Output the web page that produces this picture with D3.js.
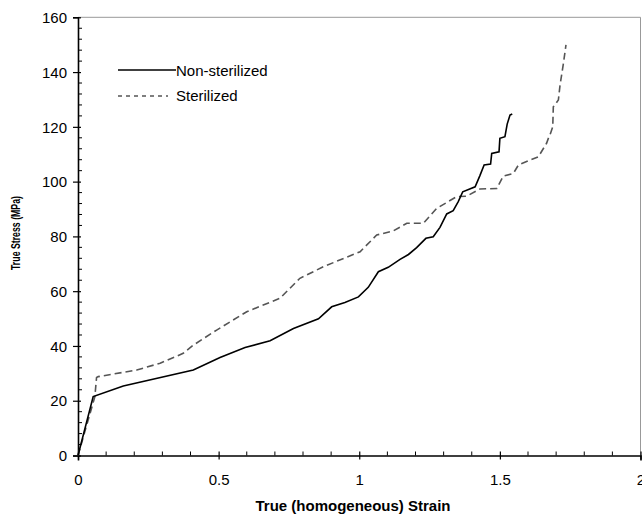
<!DOCTYPE html>
<html><head><meta charset="utf-8">
<script src="https://cdn.jsdelivr.net/npm/d3@7"></script>
<style>body{margin:0;background:#fff;} svg{display:block;font-family:Arial,"Liberation Sans",sans-serif;}</style>
</head><body>
<svg id="c" width="642" height="514"></svg>
<script>
const nonSterStrain = [0,0.054,0.161,0.41,0.505,0.594,0.683,0.766,0.855,0.902,0.949,0.997,1.032,1.068,1.103,1.145,1.175,1.204,1.237,1.263,1.287,1.311,1.334,1.352,1.368,1.412,1.429,1.444,1.467,1.471,1.497,1.5,1.518,1.526,1.536,1.544];
const nonSterStress = [0,21.5,25.4,31.2,35.8,39.4,41.9,46.4,49.9,54.3,55.9,57.9,61.4,67.1,68.7,71.6,73.4,75.9,79.3,79.9,83.3,88.2,89.4,92.7,96.3,98.1,102.2,106.1,106.4,110.3,110.9,115.8,116.4,121.0,124.3,124.7];
const sterStrain = [0,0.06,0.066,0.072,0.209,0.292,0.374,0.41,0.493,0.6,0.718,0.789,0.872,0.955,1.003,1.062,1.121,1.169,1.228,1.275,1.346,1.382,1.429,1.489,1.512,1.548,1.566,1.637,1.666,1.672,1.678,1.688,1.69,1.708,1.714,1.726,1.735];
const sterStress = [0,21.5,28.5,28.8,31.2,33.7,37.3,40.3,45.8,52.5,57.4,64.7,68.9,72.4,74.4,80.5,82,84.8,84.8,90.2,94.5,94.7,97.3,97.5,102,103,106.1,109.1,114,115.7,117,120,127.3,129.8,135.3,143.2,149.9];
const xTicks = [0,0.5,1,1.5,2];
const yTicks = [0,20,40,60,80,100,120,140,160];
const seriesNames = ["Non-sterilized","Sterilized"];

const svg = d3.select("#c");
const x = d3.scaleLinear().domain([0,2]).range([78,640.5]);
const y = d3.scaleLinear().domain([0,160]).range([455.5,17.3]);

// frame top/right
svg.append("line").attr("x1",78).attr("x2",640.5).attr("y1",17.3).attr("y2",17.3).attr("stroke","#999").attr("stroke-width",1);
svg.append("line").attr("x1",640.5).attr("x2",640.5).attr("y1",17.3).attr("y2",455.5).attr("stroke","#999").attr("stroke-width",1);

// minor ticks
const yMinor = d3.range(0,161,4).filter(v=>v%20!==0);
svg.append("g").selectAll("line").data(yMinor).join("line")
  .attr("x1",78).attr("x2",82).attr("y1",d=>y(d)).attr("y2",d=>y(d)).attr("stroke","#000").attr("stroke-width",1);
const xMinor = d3.range(0,21,1).map(v=>v/10).filter((v,i)=>i%5!==0);
svg.append("g").selectAll("line").data(xMinor).join("line")
  .attr("x1",d=>x(d)).attr("x2",d=>x(d)).attr("y1",455.5).attr("y2",451.5).attr("stroke","#000").attr("stroke-width",1);

// y axis
const ya = svg.append("g").attr("transform","translate(78,0)")
  .call(d3.axisLeft(y).tickValues(yTicks).tickSize(5).tickPadding(6).tickFormat(d3.format("d")));
ya.select(".domain").attr("stroke","#000").attr("stroke-width",1.6);
ya.selectAll(".tick line").attr("x2",-5).attr("x1",3).attr("stroke-width",1.2);
ya.selectAll("text").attr("font-size",15).attr("font-family","Arial,'Liberation Sans',sans-serif").attr("fill","#000").attr("dy","0.35em");

// x axis
const xa = svg.append("g").attr("transform","translate(0,455.5)")
  .call(d3.axisBottom(x).tickValues(xTicks).tickSize(5).tickPadding(14).tickFormat(d=>String(d)));
xa.select(".domain").attr("stroke","#000").attr("stroke-width",1.6);
xa.selectAll(".tick line").attr("y1",-4).attr("y2",4).attr("stroke-width",1.2);
xa.selectAll("text").attr("font-size",15).attr("font-family","Arial,'Liberation Sans',sans-serif").attr("fill","#000");

// lines
const line = d3.line().x(d=>x(d[0])).y(d=>y(d[1]));
const nonSter = nonSterStrain.map((v,i)=>[v,nonSterStress[i]]);
const ster = sterStrain.map((v,i)=>[v,sterStress[i]]);
svg.append("path").datum(ster).attr("d",line).attr("fill","none").attr("stroke","#555").attr("stroke-width",1.6).attr("stroke-dasharray","7,4");
svg.append("path").datum(nonSter).attr("d",line).attr("fill","none").attr("stroke","#000").attr("stroke-width",1.6);

// legend
const lg = svg.append("g");
lg.append("line").attr("x1",118).attr("x2",176).attr("y1",70).attr("y2",70).attr("stroke","#000").attr("stroke-width",1.5);
lg.append("text").attr("x",176).attr("y",75.5).attr("font-size",15).text(seriesNames[0]);
lg.append("line").attr("x1",118).attr("x2",168).attr("y1",96).attr("y2",96).attr("stroke","#555").attr("stroke-width",1.5).attr("stroke-dasharray","4,4");
lg.append("text").attr("x",176).attr("y",101).attr("font-size",15).text(seriesNames[1]);

// titles
svg.append("text").attr("x",353).attr("y",511).attr("text-anchor","middle").attr("font-size",15).attr("font-weight","bold").text("True (homogeneous) Strain");
svg.append("text").attr("transform","translate(20,233) rotate(-90)").attr("text-anchor","middle")
  .attr("font-size",12).attr("font-weight","bold").attr("textLength",74).attr("lengthAdjust","spacingAndGlyphs").text("True Stress (MPa)");
</script>
</body></html>
